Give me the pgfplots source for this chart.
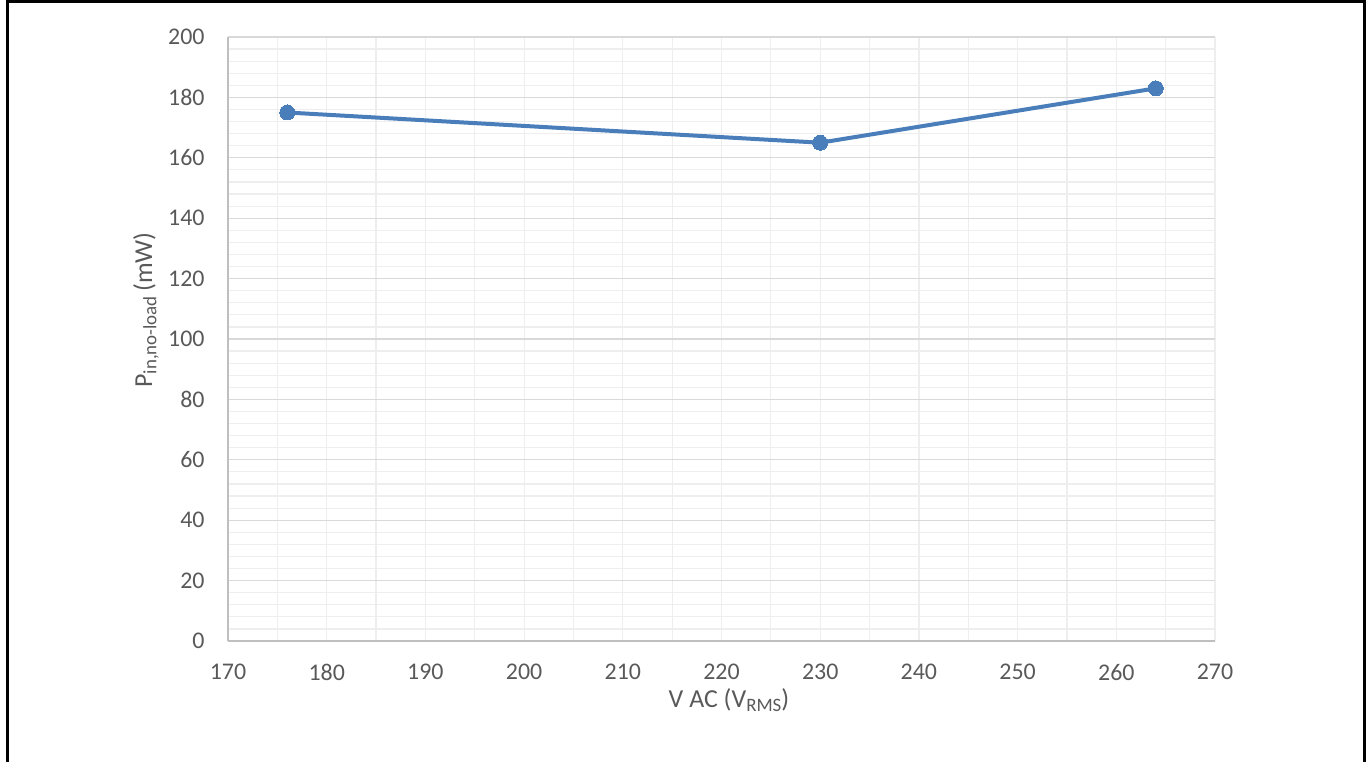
\documentclass[border=0pt]{standalone}
\usepackage{pgfplots}
\pgfplotsset{compat=1.18}
\usepackage{fontspec}
\setmainfont{Carlito}
\definecolor{txtgray}{HTML}{595959}
\definecolor{axgray}{HTML}{BFBFBF}
\definecolor{majgray}{HTML}{D9D9D9}
\definecolor{mingray}{HTML}{EEEEEE}
\definecolor{serblue}{HTML}{4A7EBB}
\begin{document}
\begin{tikzpicture}
\useasboundingbox (0,0) rectangle (684bp,381bp);
\draw[line width=1.5bp, black] (3.5bp,-10bp) -- (3.5bp,380bp) -- (682bp,380bp) -- (682bp,-10bp);
\begin{axis}[
  at={(114bp,60.5bp)}, anchor=south west,
  scale only axis, width=493.5bp, height=302bp,
  xmin=170, xmax=270, ymin=0, ymax=200,
  xtick={170,180,...,270},
  ytick={0,20,...,200},
  minor xtick={175,180,...,270},
  minor ytick={4,8,...,196},
  xmajorgrids=false, xminorgrids=true,
  ymajorgrids=true, yminorgrids=true,
  major grid style={draw=majgray, line width=0.6bp},
  minor grid style={draw=mingray, line width=0.6bp},
  axis x line*=bottom, axis y line*=left,
  axis line style={-, draw=axgray, line width=0.8bp},
  tick style={draw=none},
  /pgf/number format/assume math mode=true,
  font=\fontsize{12}{14}\selectfont,
  ticklabel style={text=txtgray, font=\fontsize{12}{14}\selectfont},
  yticklabel style={anchor=east, inner sep=0pt, xshift=-11.5bp},
  xticklabel style={anchor=north, inner sep=0pt, yshift=-11.5bp},
  xlabel={\fontsize{13}{15}\selectfont V AC (V\raisebox{-0.35ex}{\fontsize{9.5}{10}\selectfont RMS})},
  ylabel={\fontsize{13}{15}\selectfont P\raisebox{-0.35ex}{\fontsize{9.5}{10}\selectfont in,no-load}\,(mW)},
  xlabel style={at={(axis description cs:0.5076,-0.1093)}, anchor=base, inner sep=0pt, text=txtgray},
  ylabel style={at={(axis description cs:-0.077,0.548)}, anchor=base, rotate=0, inner sep=0pt, text=txtgray},
  clip=false,
]
\addplot[color=serblue, line width=2bp, mark=*, mark size=3.75bp, mark options={fill=serblue, draw=serblue, line width=0pt}]
  coordinates {(176,175) (230,165) (264,183)};
\end{axis}
\end{tikzpicture}
\end{document}
